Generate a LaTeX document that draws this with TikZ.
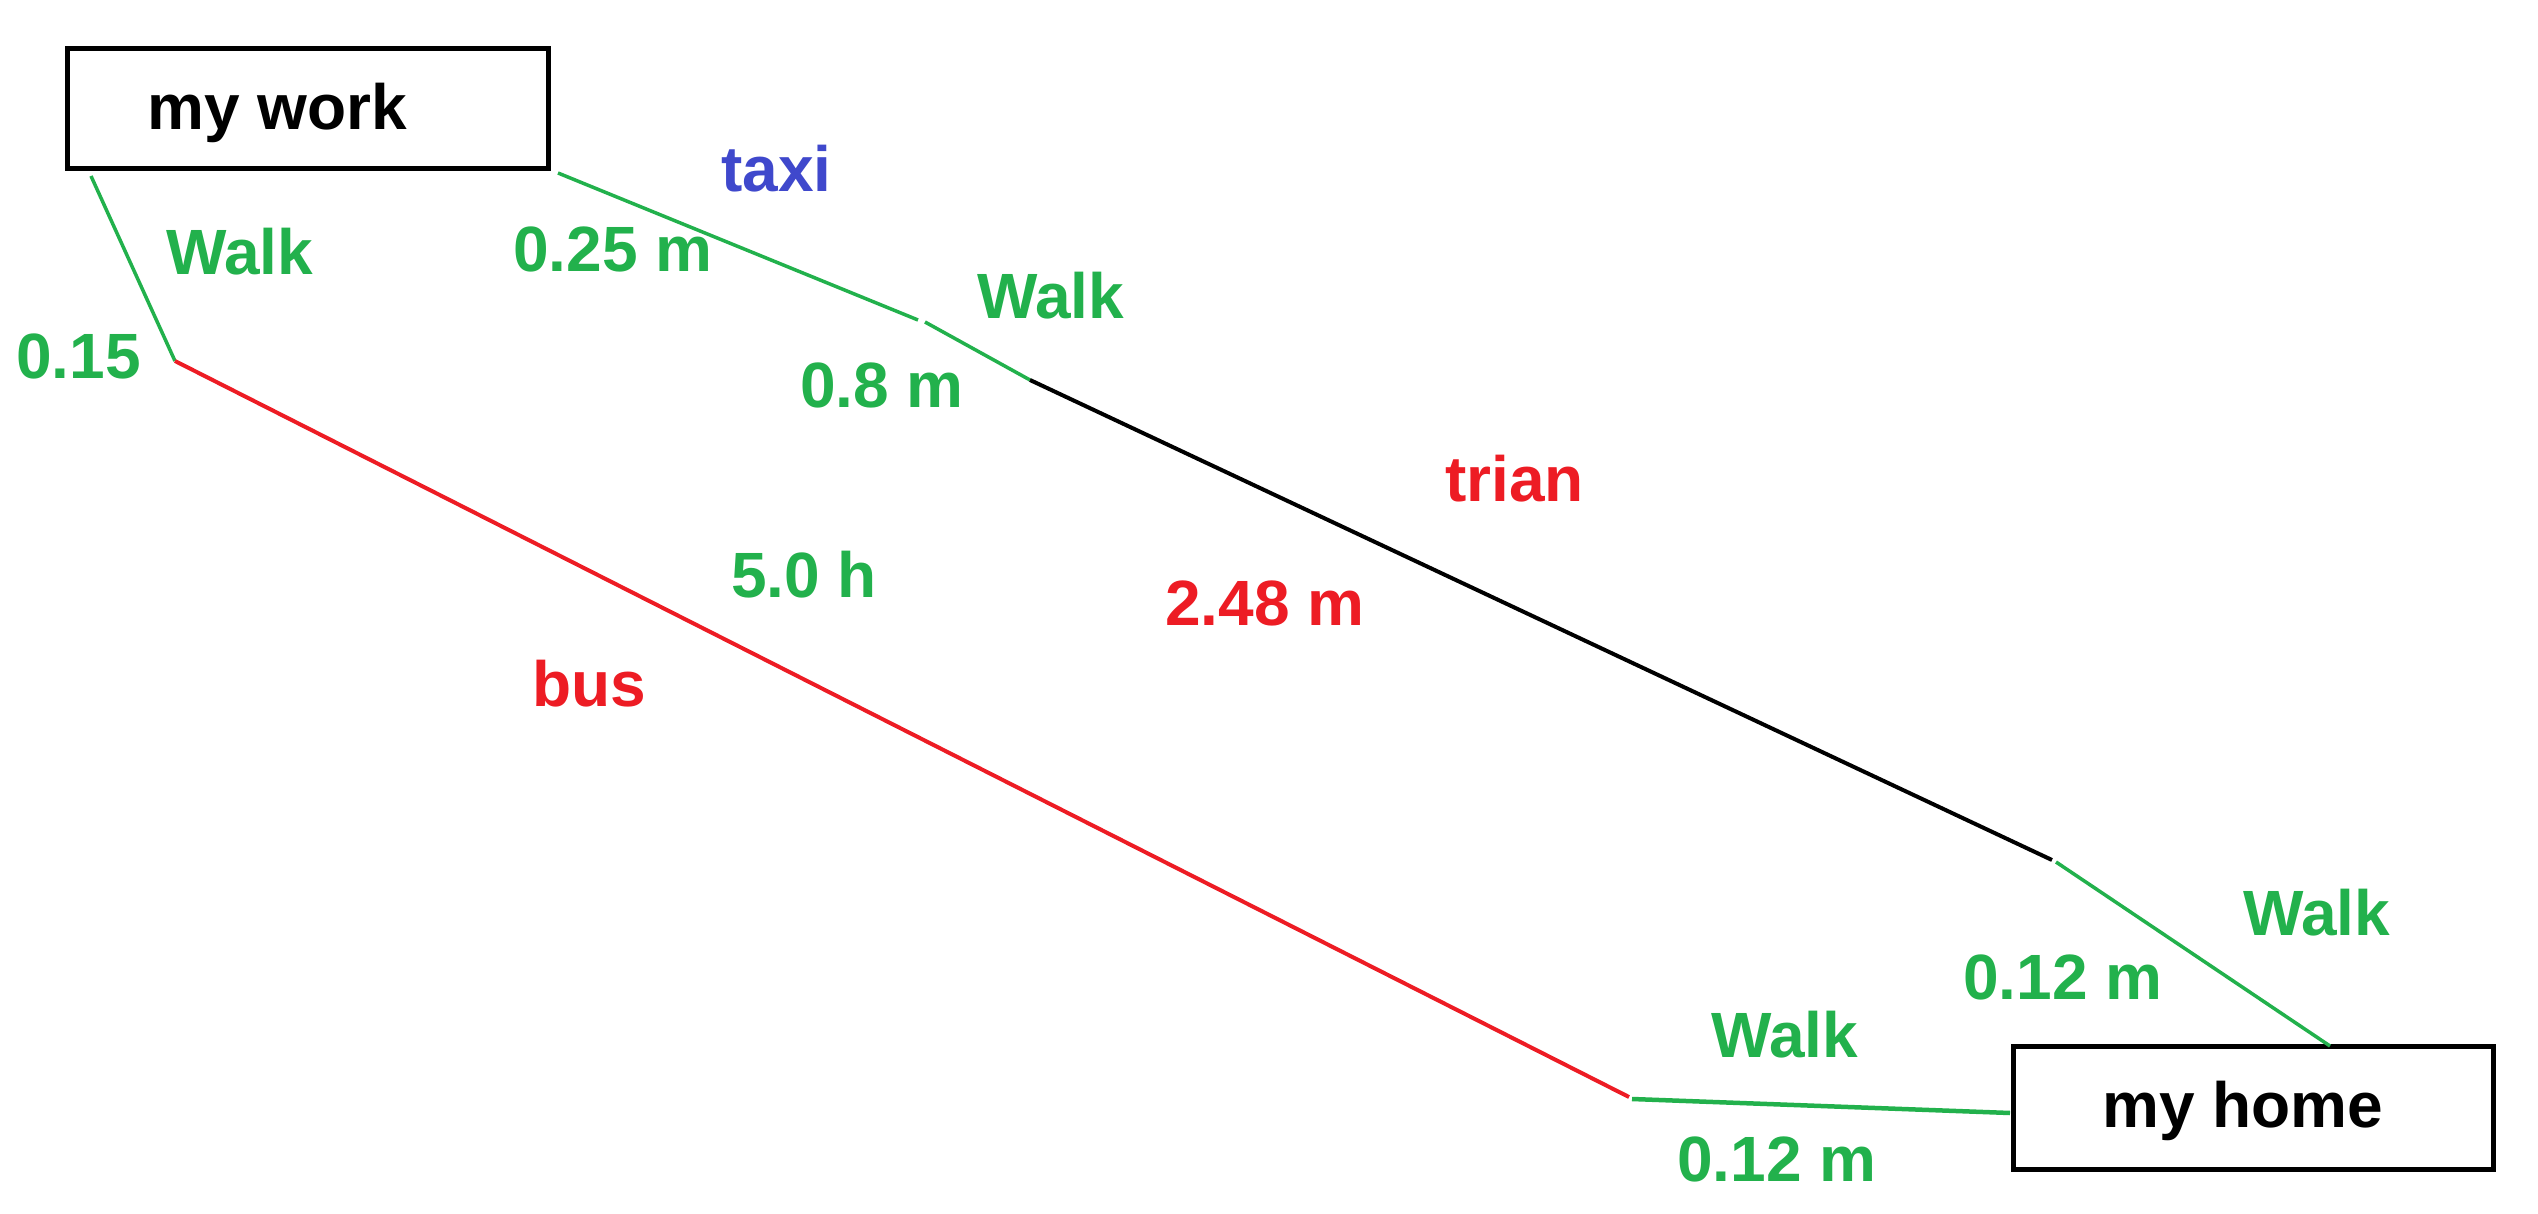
\documentclass[tikz,border=0pt]{standalone}
\usepackage{fontspec}
\setmainfont{Liberation Sans}
\definecolor{pgreen}{HTML}{22B14C}
\definecolor{pred}{HTML}{ED1C24}
\definecolor{pblue}{HTML}{3F48CC}
\begin{document}
\begin{tikzpicture}[x=1pt,y=-1pt,
  lbl/.style={anchor=base west,inner sep=0pt,font=\fontsize{64}{70}\selectfont\bfseries},
  place/.style={draw=black,line width=5pt,inner sep=0pt},
  walkline/.style={draw=pgreen,line width=3.5pt},
  busline/.style={draw=pred,line width=4pt},
  trainline/.style={draw=black,line width=4pt}]
\useasboundingbox (0,0) rectangle (2538,1214);
\fill[white] (0,0) rectangle (2538,1214);
% boxes
\node[place,minimum width=481pt,minimum height=120pt] (work) at (307.5,109) {};
\node[place,minimum width=480pt,minimum height=123pt] (home) at (2253,1107.5) {};
\node[lbl] (worktxt) at (147,130) {my work};
\node[lbl] (hometxt) at (2102,1127) {my home};
% junctions
\coordinate (w1) at (91,176);
\coordinate (j1) at (175,361);
\coordinate (j2) at (1629,1097);
\coordinate (j2b) at (1632,1099);
\coordinate (h1) at (2010,1113);
\coordinate (t0) at (558,173);
\coordinate (t1) at (918,320);
\coordinate (t1b) at (925,322);
\coordinate (t2) at (1030,380);
\coordinate (t3) at (2052,860);
\coordinate (t3b) at (2056,862);
\coordinate (h2) at (2330,1046);
% connectors
\draw[walkline] (w1) -- (j1);
\draw[busline] (j1) -- (j2);
\draw[walkline,line width=4.5pt] (j2b) -- (h1);
\draw[walkline] (t0) -- (t1);
\draw[walkline] (t1b) -- (t2);
\draw[trainline] (t2) -- (t3);
\draw[walkline] (t3b) -- (h2);
% labels
\node[lbl,pblue] (ltaxi) at (721,192) {taxi};
\node[lbl,pgreen] (lw1) at (166,275) {Walk};
\node[lbl,pgreen] (l015) at (16,379) {0.15};
\node[lbl,pgreen] (l025) at (513,272) {0.25 m};
\node[lbl,pgreen] (lw2) at (977,319) {Walk};
\node[lbl,pgreen] (l08) at (800,407) {0.8 m};
\node[lbl,pred] (ltrian) at (1445,501) {trian};
\node[lbl,pred] (l248) at (1165,625) {2.48 m};
\node[lbl,pgreen] (l50) at (731,597) {5.0 h};
\node[lbl,pred] (lbus) at (532,706) {bus};
\node[lbl,pgreen] (lw3) at (2243,935) {Walk};
\node[lbl,pgreen] (l012a) at (1963,999) {0.12 m};
\node[lbl,pgreen] (lw4) at (1711,1057) {Walk};
\node[lbl,pgreen] (l012b) at (1677,1181) {0.12 m};
\end{tikzpicture}
\end{document}
